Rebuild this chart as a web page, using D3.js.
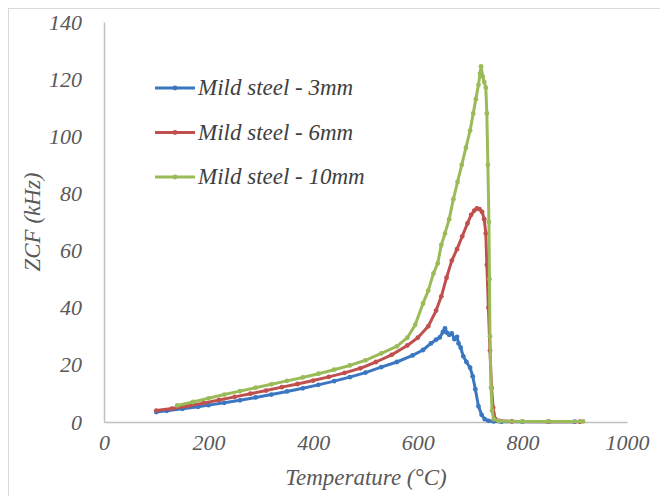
<!DOCTYPE html>
<html>
<head>
<meta charset="utf-8">
<script src="https://cdn.jsdelivr.net/npm/d3@7"></script>
<style>
  #chart text { font-family: "Times New Roman", "Liberation Serif", Tinos, serif !important; font-style: italic !important; }
</style>
</head>
<body style="margin:0">
<svg id="chart" width="660" height="496"></svg>
<script>
// ZCF vs temperature for three mild steel thicknesses
const xTicks = [0, 200, 400, 600, 800, 1000];
const yTicks = [0, 20, 40, 60, 80, 100, 120, 140];

const seriesNames = ["Mild steel - 3mm", "Mild steel - 6mm", "Mild steel - 10mm"];
const seriesColors = ["#3b76c0", "#c0504d", "#9bbb59"];

// [temperature °C, ZCF kHz]
const steel3mm = [
  [100, 3.5], [120, 3.9], [150, 4.6], [180, 5.3], [200, 5.9], [230, 6.7], [260, 7.6],
  [290, 8.6], [320, 9.6], [350, 10.7], [380, 11.8], [410, 13.0], [440, 14.3], [470, 15.7],
  [500, 17.3], [530, 19.2], [560, 21.0], [590, 23.3], [610, 25.2], [625, 27.5], [635, 28.8],
  [642, 29.6], [648, 31.5], [652, 32.8], [656, 31.2], [660, 30.5], [665, 31.0], [670, 29.0],
  [675, 29.8], [678, 27.5], [682, 26.0], [687, 23.0], [693, 21.0], [700, 19.0], [705, 16.0],
  [710, 11.5], [716, 5.5], [722, 2.5], [728, 1.0], [735, 0.4], [745, 0.2], [760, 0.1],
  [800, 0.1], [850, 0.1], [900, 0.1]
];
const steel6mm = [
  [100, 4.0], [130, 4.7], [160, 5.6], [190, 6.6], [220, 7.7], [250, 8.8], [280, 9.9],
  [310, 11.0], [340, 12.2], [370, 13.3], [400, 14.5], [430, 15.8], [460, 17.2], [490, 18.8],
  [520, 21.0], [550, 23.5], [580, 26.8], [600, 29.5], [620, 33.5], [635, 39], [645, 44],
  [655, 50.5], [665, 56.5], [675, 60.5], [685, 65], [695, 69.5], [702, 72.5], [708, 74.0],
  [713, 74.8], [718, 74.5], [723, 73.5], [727, 71], [730, 66], [732, 55], [735, 40],
  [738, 25], [741, 12], [744, 5], [748, 1], [755, 0.4], [780, 0.2], [850, 0.1], [910, 0.1]
];
const steel10mm = [
  [140, 5.8], [170, 7.0], [200, 8.3], [230, 9.6], [260, 10.8], [290, 12.0], [320, 13.2],
  [350, 14.4], [380, 15.6], [410, 16.9], [440, 18.3], [470, 19.8], [500, 21.6], [530, 24.0],
  [560, 26.5], [580, 29.5], [595, 34], [610, 41.5], [620, 46], [630, 52], [638, 55.5],
  [645, 62], [652, 66], [660, 71], [668, 78], [676, 84], [684, 90], [692, 96], [700, 102],
  [706, 108], [711, 113], [716, 118], [719, 122], [721, 124.5], [724, 121], [727, 119],
  [730, 117], [732, 108], [734, 90], [736, 70], [737, 50], [738, 30], [740, 12], [742, 4],
  [745, 1], [755, 0.3], [800, 0.2], [850, 0.2], [916, 0.2]
];
const seriesData = [steel3mm, steel6mm, steel10mm];

const FONT = "Times New Roman";
const svg = d3.select("#chart");
const plot = { left: 104, right: 627, top: 22, bottom: 422 };

// give a text selection the chart's italic serif face
function face(sel, size) {
  return sel.attr("font-family", FONT).attr("font-style", "italic").attr("font-size", size);
}

// outer chart frame
svg.append("rect")
  .attr("x", 8.5).attr("y", 8.5).attr("width", 700).attr("height", 600)
  .attr("fill", "none").attr("stroke", "#d9d9d9").attr("stroke-width", 1);

const x = d3.scaleLinear().domain([0, 1000]).range([plot.left, plot.right]);
const y = d3.scaleLinear().domain([0, 140]).range([plot.bottom, plot.top]);

// axes: plain grey lines, italic labels, no tick marks
const xAxis = svg.append("g")
  .attr("transform", `translate(0,${plot.bottom})`)
  .call(d3.axisBottom(x).tickValues(xTicks).tickSize(0).tickPadding(22).tickFormat(d3.format("d")));
const yAxis = svg.append("g")
  .attr("transform", `translate(${plot.left},0)`)
  .call(d3.axisLeft(y).tickValues(yTicks).tickSize(0).tickPadding(22).tickFormat(d3.format("d")));

[xAxis, yAxis].forEach(g => {
  g.attr("font-family", FONT).attr("font-size", 22);
  g.select(".domain").attr("stroke", "#bfbfbf").attr("stroke-width", 1.5);
  face(g.selectAll("text"), 22).attr("fill", "#595959");
});
xAxis.selectAll("text").attr("dy", "0.25em");
yAxis.selectAll("text").attr("dy", "0.32em");

// axis titles
face(svg.append("text"), 23)
  .attr("x", 366).attr("y", 485)
  .attr("text-anchor", "middle")
  .attr("fill", "#595959")
  .text("Temperature (°C)");
face(svg.append("text"), 23)
  .attr("transform", "translate(40,222) rotate(-90)")
  .attr("text-anchor", "middle")
  .attr("fill", "#595959")
  .text("ZCF (kHz)");

// series lines with small markers
const line = d3.line().x(d => x(d[0])).y(d => y(d[1]));
seriesData.forEach((data, i) => {
  const g = svg.append("g");
  g.append("path")
    .datum(data)
    .attr("d", line)
    .attr("fill", "none")
    .attr("stroke", seriesColors[i])
    .attr("stroke-width", 3)
    .attr("stroke-linejoin", "round");
  g.selectAll("circle")
    .data(data)
    .join("circle")
    .attr("cx", d => x(d[0]))
    .attr("cy", d => y(d[1]))
    .attr("r", 2.4)
    .attr("fill", seriesColors[i]);
});

// legend
const legend = svg.append("g");
seriesNames.forEach((name, i) => {
  const ly = 88 + i * 44.5;
  legend.append("line")
    .attr("x1", 155).attr("x2", 195).attr("y1", ly).attr("y2", ly)
    .attr("stroke", seriesColors[i]).attr("stroke-width", 3);
  legend.append("circle")
    .attr("cx", 175).attr("cy", ly).attr("r", 2.4).attr("fill", seriesColors[i]);
  face(legend.append("text"), 23)
    .attr("x", 198).attr("y", ly + 7)
    .attr("fill", "#404040")
    .text(name);
});
</script>
</body>
</html>
